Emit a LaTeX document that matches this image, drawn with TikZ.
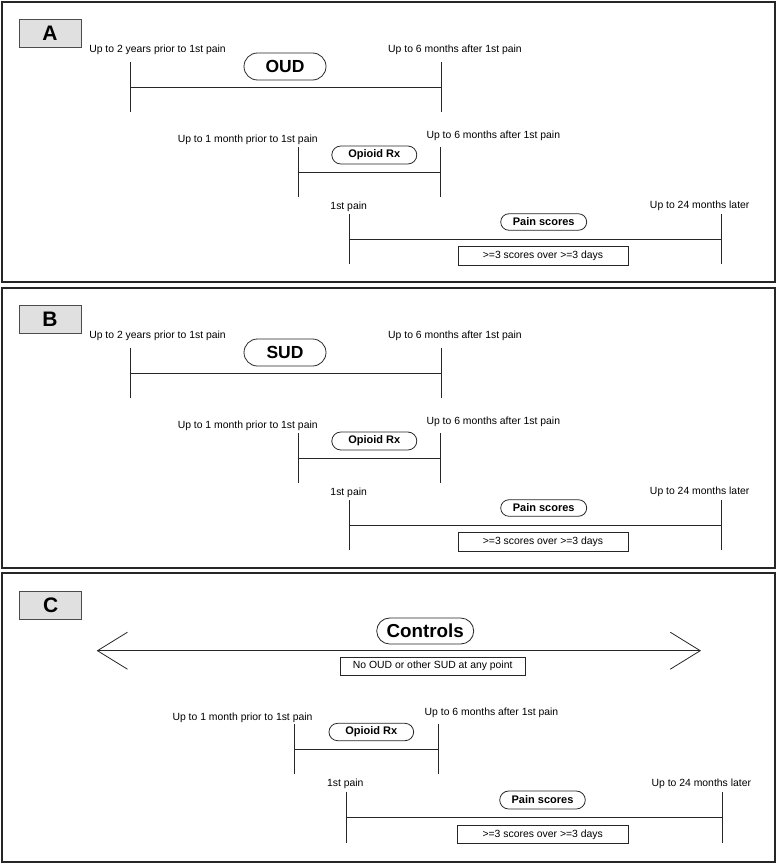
\documentclass[tikz,border=0pt]{standalone}
\usepackage{fontspec}
\setmainfont{Liberation Sans}
\usetikzlibrary{shapes.misc, arrows.meta, positioning}

\begin{document}
\begin{tikzpicture}[
    x=1pt, y=-1pt,
    panel/.style={draw=black!85, line width=1.4pt},
    tag/.style={draw=black!70, fill=black!12, thick, inner sep=0pt, minimum width=62pt, minimum height=28pt, font=\bfseries\fontsize{21}{21}\selectfont},
    tl/.style={draw=black!85, line width=0.8pt},
    period/.style={rounded rectangle, draw=black!85, line width=0.8pt, inner sep=0pt, font=\bfseries\fontsize{11}{12}\selectfont},
    big/.style={period, font=\bfseries\fontsize{17.5}{18}\selectfont},
    note/.style={rectangle, draw=black!85, line width=0.7pt, inner sep=0pt, font=\fontsize{10.4}{12}\selectfont},
    lab/.style={inner sep=0pt, anchor=base, font=\fontsize{10.4}{12}\selectfont},
    opentip/.tip={Straight Barb[length=30pt, width=37pt, line width=0.8pt]}
]
\useasboundingbox (0,0) rectangle (777,864);

% --- panel A ---
\draw[panel] (2,2) rectangle (775,282);
\node[tag] (tagA) at (50,33) {A};

% OUD window
\coordinate (oudA-l) at (130,87.3);
\coordinate (oudA-r) at (441.7,87.3);
\node[lab] (oudA-from) at (157.5,52.3) {Up to 2 years prior to 1st pain};
\node[lab] (oudA-to) at (455,52.3) {Up to 6 months after 1st pain};
\node[big, minimum width=82pt, minimum height=27pt] (oudA) at (285,66.5) {OUD};
\draw[tl] (oudA-l) -- (oudA-r);
\draw[tl] (oudA-l) ++(0,-25) -- ++(0,50);
\draw[tl] (oudA-r) ++(0,-25) -- ++(0,50);

% opioid prescription window
\coordinate (rxA-l) at (298.7,172);
\coordinate (rxA-r) at (440,172);
\node[lab] (rxA-from) at (247.7,142.7) {Up to 1 month prior to 1st pain};
\node[lab] (rxA-to) at (493.3,138.3) {Up to 6 months after 1st pain};
\node[period, minimum width=85pt, minimum height=18pt] (rxA) at (374.3,155) {Opioid Rx};
\draw[tl] (rxA-l) -- (rxA-r);
\draw[tl] (rxA-l) ++(0,-25) -- ++(0,50);
\draw[tl] (rxA-r) ++(0,-25) -- ++(0,50);

% pain score window
\coordinate (painA-l) at (349.7,239.3);
\coordinate (painA-r) at (721,239.3);
\node[lab] (painA-from) at (348.7,209) {1st pain};
\node[lab] (painA-to) at (699.7,208.3) {Up to 24 months later};
\node[period, minimum width=86pt, minimum height=16.5pt] (painA) at (543.7,222) {Pain scores};
\node[note, minimum width=170pt, minimum height=19pt] (ruleA) at (543,256) {>=3 scores over >=3 days};
\draw[tl] (painA-l) -- (painA-r);
\draw[tl] (painA-l) ++(0,-25) -- ++(0,50);
\draw[tl] (painA-r) ++(0,-25) -- ++(0,50);

% --- panel B ---
\draw[panel] (2,288) rectangle (775,568);
\node[tag] (tagB) at (50,319) {B};

% SUD window
\coordinate (sudB-l) at (130,373.3);
\coordinate (sudB-r) at (441.7,373.3);
\node[lab] (sudB-from) at (157.5,338.3) {Up to 2 years prior to 1st pain};
\node[lab] (sudB-to) at (455,338.3) {Up to 6 months after 1st pain};
\node[big, minimum width=82pt, minimum height=27pt] (sudB) at (285,352.5) {SUD};
\draw[tl] (sudB-l) -- (sudB-r);
\draw[tl] (sudB-l) ++(0,-25) -- ++(0,50);
\draw[tl] (sudB-r) ++(0,-25) -- ++(0,50);

% opioid prescription window
\coordinate (rxB-l) at (298.7,458);
\coordinate (rxB-r) at (440,458);
\node[lab] (rxB-from) at (247.7,428.7) {Up to 1 month prior to 1st pain};
\node[lab] (rxB-to) at (493.3,424.3) {Up to 6 months after 1st pain};
\node[period, minimum width=85pt, minimum height=18pt] (rxB) at (374.3,441) {Opioid Rx};
\draw[tl] (rxB-l) -- (rxB-r);
\draw[tl] (rxB-l) ++(0,-25) -- ++(0,50);
\draw[tl] (rxB-r) ++(0,-25) -- ++(0,50);

% pain score window
\coordinate (painB-l) at (349.7,525.3);
\coordinate (painB-r) at (721,525.3);
\node[lab] (painB-from) at (348.7,495) {1st pain};
\node[lab] (painB-to) at (699.7,494.3) {Up to 24 months later};
\node[period, minimum width=86pt, minimum height=16.5pt] (painB) at (543.7,508) {Pain scores};
\node[note, minimum width=170pt, minimum height=19pt] (ruleB) at (543,542) {>=3 scores over >=3 days};
\draw[tl] (painB-l) -- (painB-r);
\draw[tl] (painB-l) ++(0,-25) -- ++(0,50);
\draw[tl] (painB-r) ++(0,-25) -- ++(0,50);

% --- panel C ---
\draw[panel] (2,573) rectangle (775,862);
\node[tag] (tagC) at (50.8,605) {C};

% controls: open-ended window
\coordinate (ctlC-l) at (96.7,650.7);
\coordinate (ctlC-r) at (701,650.7);
\node[big, font=\bfseries\fontsize{18.8}{19}\selectfont, minimum width=97pt, minimum height=26pt] (ctlC) at (425.2,631) {Controls};
\node[note, minimum width=185pt, minimum height=18.7pt] (ruleC0) at (432.7,666.3) {No OUD or other SUD at any point};
\draw[tl, opentip-opentip] (ctlC-l) -- (ctlC-r);

% opioid prescription window
\coordinate (rxC-l) at (294.7,749);
\coordinate (rxC-r) at (438,749);
\node[lab] (rxC-from) at (242.5,720) {Up to 1 month prior to 1st pain};
\node[lab] (rxC-to) at (491.5,715) {Up to 6 months after 1st pain};
\node[period, minimum width=84.7pt, minimum height=17.4pt] (rxC) at (371.3,732) {Opioid Rx};
\draw[tl] (rxC-l) -- (rxC-r);
\draw[tl] (rxC-l) ++(0,-25) -- ++(0,50);
\draw[tl] (rxC-r) ++(0,-25) -- ++(0,50);

% pain score window
\coordinate (painC-l) at (346.3,817.3);
\coordinate (painC-r) at (722.7,817.3);
\node[lab] (painC-from) at (345.3,786.7) {1st pain};
\node[lab] (painC-to) at (701.3,786.7) {Up to 24 months later};
\node[period, minimum width=85.6pt, minimum height=18pt] (painC) at (542.5,800) {Pain scores};
\node[note, minimum width=171.3pt, minimum height=17.6pt] (ruleC) at (542.7,834.5) {>=3 scores over >=3 days};
\draw[tl] (painC-l) -- (painC-r);
\draw[tl] (painC-l) ++(0,-25.5) -- ++(0,51.5);
\draw[tl] (painC-r) ++(0,-25.5) -- ++(0,51.5);

\end{tikzpicture}
\end{document}
